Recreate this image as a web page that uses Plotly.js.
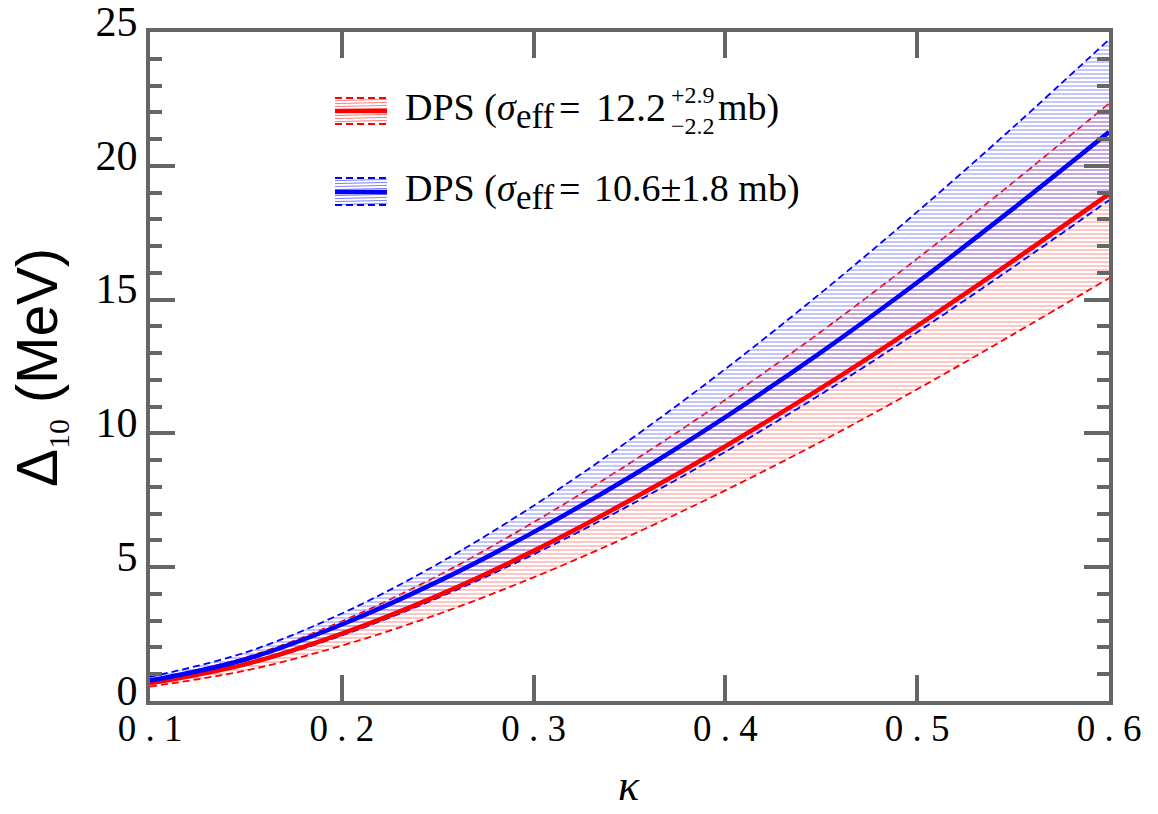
<!DOCTYPE html>
<html>
<head>
<meta charset="utf-8">
<script src="https://cdn.plot.ly/plotly-3.0.1.min.js"></script>
<style>html,body{margin:0;padding:0;background:#fff;}#chart{width:1158px;height:814px;}</style>
</head>
<body>
<div id="chart"></div>
<script>
// ---- data ----
const kappa      = [0.10, 0.15, 0.20, 0.25, 0.30, 0.35, 0.40, 0.45, 0.50, 0.55, 0.60];
const redCenter  = [0.66, 1.38, 2.52, 3.94, 5.61, 7.49, 9.52, 11.70, 14.02, 16.45, 18.95];
const redUpper   = [0.78, 1.63, 2.98, 4.68, 6.68, 8.88, 11.26, 13.81, 16.53, 19.38, 22.33];
const redLower   = [0.54, 1.14, 2.07, 3.24, 4.62, 6.17, 7.87, 9.70, 11.65, 13.70, 15.80];
const blueCenter = [0.76, 1.56, 2.86, 4.46, 6.31, 8.36, 10.61, 13.04, 15.64, 18.40, 21.26];
const blueUpper  = [0.90, 1.82, 3.27, 5.12, 7.30, 9.75, 12.41, 15.26, 18.28, 21.44, 24.72];
const blueLower  = [0.65, 1.35, 2.45, 3.85, 5.48, 7.31, 9.31, 11.47, 13.78, 16.21, 18.71];

const xTickVals  = [0.1, 0.2, 0.3, 0.4, 0.5, 0.6];
const xTickText  = ['0 . 1', '0 . 2', '0 . 3', '0 . 4', '0 . 5', '0 . 6'];
const yTickVals  = [0, 5, 10, 15, 20, 25];
const yTickText  = ['0', '5', '10', '15', '20', '25'];

const legendRed  = ['DPS (<i>σ</i>', 'eff', '=', '12.2', '+2.9<br>−2.2', 'mb)'];
const legendBlue = ['DPS (<i>σ</i>', 'eff', '=', '10.6±1.8 mb)'];

// ---- style ----
const RED = '#ff0000', BLUE = '#0000ff';
const RED_HATCH = '#ff8080', BLUE_HATCH = '#8080ff';
const FRAME = '#666666';
const SERIF = '"Liberation Serif", "Times New Roman", Times, serif';
const SANS = '"Liberation Sans", Arial, Helvetica, sans-serif';

const L = 150, R = 1109, T = 32, B = 701;
const px = x => (x - L) / (R - L);
const py = y => (B - y) / (B - T);

function band(lower, upper, color, hatch) {
  return [
    {x: kappa, y: lower, mode: 'lines', line: {color: color, width: 1.8, dash: '7px,4px', shape: 'spline'},
     hoverinfo: 'skip', showlegend: false},
    {x: kappa, y: upper, mode: 'lines', line: {color: color, width: 1.8, dash: '7px,4px', shape: 'spline'},
     fill: 'tonexty', fillcolor: 'rgba(0,0,0,0)',
     fillpattern: {shape: '-', size: 4, solidity: 0.45, fgcolor: hatch, bgcolor: 'rgba(0,0,0,0)', fillmode: 'overlay'},
     hoverinfo: 'skip', showlegend: false}
  ];
}

const traces = [
  ...band(redLower, redUpper, RED, RED_HATCH),
  ...band(blueLower, blueUpper, BLUE, BLUE_HATCH),
  {x: kappa, y: redCenter, mode: 'lines', line: {color: RED, width: 4.5, shape: 'spline'}, showlegend: false},
  {x: kappa, y: blueCenter, mode: 'lines', line: {color: BLUE, width: 4.5, shape: 'spline'}, showlegend: false}
];

// ---- legend keys (shapes) ----
const shapes = [];
function key(x0, x1, yTop, yMid, yBot, color, hatch) {
  for (let y = yTop + 2; y <= yBot - 1; y += 3) {
    shapes.push({type: 'line', xref: 'paper', yref: 'paper', x0: px(x0), x1: px(x1), y0: py(y + 0.6), y1: py(y - 0.6),
      line: {color: hatch, width: 1}});
  }
  shapes.push({type: 'line', xref: 'paper', yref: 'paper', x0: px(x0), x1: px(x1), y0: py(yTop), y1: py(yTop),
    line: {color: color, width: 1.8, dash: '7px,4px'}});
  shapes.push({type: 'line', xref: 'paper', yref: 'paper', x0: px(x0), x1: px(x1), y0: py(yBot), y1: py(yBot),
    line: {color: color, width: 1.8, dash: '7px,4px'}});
  shapes.push({type: 'line', xref: 'paper', yref: 'paper', x0: px(x0), x1: px(x1), y0: py(yMid), y1: py(yMid),
    line: {color: color, width: 4.5}});
}
key(335, 387, 98, 111, 124, RED, RED_HATCH);
key(335, 387, 178, 192, 205, BLUE, BLUE_HATCH);

// ---- annotations ----
function ann(text, x, y, size, extra) {
  return Object.assign({text: text, xref: 'paper', yref: 'paper', x: px(x), y: py(y),
    xanchor: 'left', yanchor: 'middle', showarrow: false,
    font: {family: SERIF, size: size, color: '#000'}}, extra || {});
}
const annotations = [
  ann(legendRed[0], 403, 108, 38),
  ann(legendRed[1], 514, 116, 35),
  ann(legendRed[2], 557, 108, 38),
  ann(legendRed[3], 594, 108, 40),
  ann(legendRed[4], 669, 111, 24, {align: 'left'}),
  ann(legendRed[5], 716, 108, 38),
  ann(legendBlue[0], 403, 189, 38),
  ann(legendBlue[1], 514, 197, 35),
  ann(legendBlue[2], 557, 189, 38),
  ann(legendBlue[3], 592, 189, 38),
  // axis titles
  {text: '<i>κ</i>', xref: 'paper', yref: 'paper', x: px(629), y: py(812), xanchor: 'center', yanchor: 'bottom',
   showarrow: false, font: {family: SERIF, size: 44, color: '#000'}},
  {text: 'Δ<sub><span style="font-family:Liberation Serif,Times New Roman,serif;font-size:30px">10</span></sub> (MeV)',
   xref: 'paper', yref: 'paper', x: px(40), y: py(368), xanchor: 'center', yanchor: 'middle',
   textangle: -90, showarrow: false, font: {family: SANS, size: 57, color: '#000'}}
];

const layout = {
  width: 1158, height: 814,
  margin: {l: L, r: 1158 - R, t: T, b: 814 - B, pad: 0},
  paper_bgcolor: '#fff', plot_bgcolor: '#fff',
  showlegend: false,
  xaxis: {
    range: [0.1, 0.6], showgrid: false, zeroline: false,
    showline: true, linecolor: FRAME, linewidth: 4, mirror: 'ticks',
    ticks: 'inside', ticklen: 26, tickwidth: 4, tickcolor: FRAME,
    tickmode: 'array', tickvals: xTickVals, ticktext: xTickText,
    tickfont: {family: SERIF, size: 37, color: '#000'},
    ticklabelstandoff: -8
  },
  yaxis: {
    range: [0, 25], showgrid: false, zeroline: false,
    showline: true, linecolor: FRAME, linewidth: 4, mirror: 'ticks',
    ticks: 'inside', ticklen: 25, tickwidth: 4, tickcolor: FRAME,
    tickmode: 'array', tickvals: yTickVals, ticktext: yTickText,
    tickfont: {family: SERIF, size: 42, color: '#000'},
    ticklabelshift: -11, ticklabeloverflow: 'allow',
    minor: {ticks: 'inside', ticklen: 12, tickwidth: 4, tickcolor: FRAME, dtick: 1, showgrid: false}
  },
  shapes: shapes,
  annotations: annotations
};

Plotly.newPlot('chart', traces, layout, {staticPlot: true, displayModeBar: false});
</script>
</body>
</html>
